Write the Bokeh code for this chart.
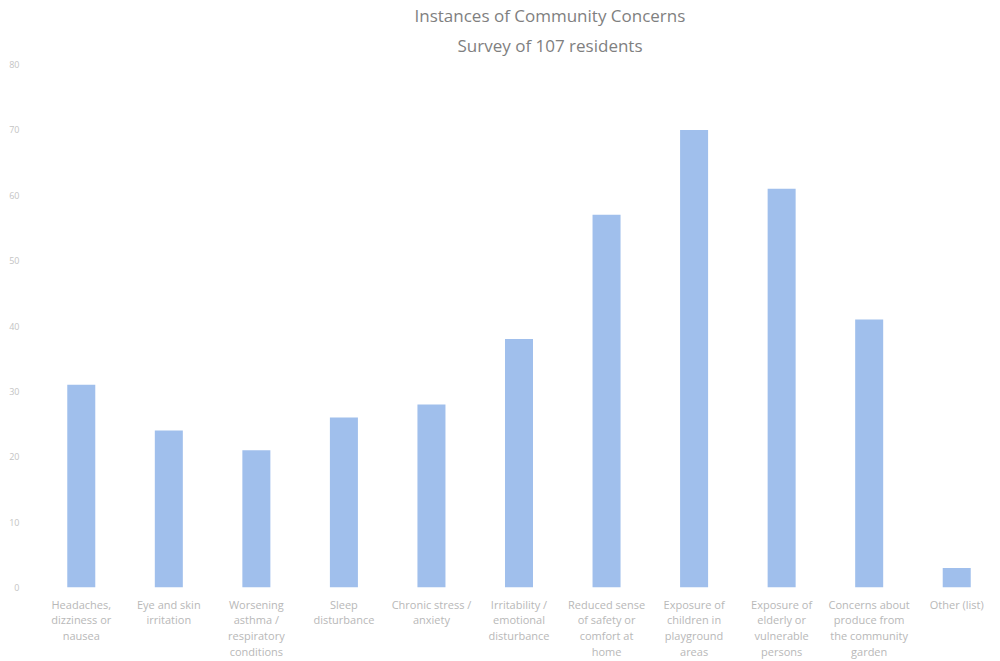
from bokeh.plotting import figure
from bokeh.models import FactorRange, Range1d, Title, FixedTicker
from bokeh.embed import file_html
from bokeh.resources import INLINE

categories = [
    "Headaches,\ndizziness or\nnausea",
    "Eye and skin\nirritation",
    "Worsening\nasthma /\nrespiratory\nconditions",
    "Sleep\ndisturbance",
    "Chronic stress /\nanxiety",
    "Irritability /\nemotional\ndisturbance",
    "Reduced sense\nof safety or\ncomfort at\nhome",
    "Exposure of\nchildren in\nplayground\nareas",
    "Exposure of\nelderly or\nvulnerable\npersons",
    "Concerns about\nproduce from\nthe community\ngarden",
    "Other (list)",
]
counts = [31, 24, 21, 26, 28, 38, 57, 70, 61, 41, 3]
y_ticks = [0, 10, 20, 30, 40, 50, 60, 70, 80]

FONT = "Open Sans"

p = figure(
    width=1000, height=661,
    x_range=FactorRange(*categories, range_padding=0),
    y_range=Range1d(0, 80),
    output_backend="svg", toolbar_location=None,
    min_border_left=37, min_border_right=0,
    min_border_bottom=74, min_border_top=64,
    outline_line_color=None,
)
p.title.text = ""

p.vbar(x=categories, top=counts, width=0.32, fill_color="#a0bfec", line_color=None)

sub = Title(text="Survey of 107 residents", align="left", text_font=FONT,
            text_font_size="17px", text_font_style="normal", text_color="#7f7f7f",
            standoff=11, offset=420, vertical_align="top", text_line_height=1.0)
main = Title(text="Instances of Community Concerns", align="left", text_font=FONT,
             text_font_size="17px", text_font_style="normal", text_color="#7f7f7f",
             standoff=0, offset=377, vertical_align="top", text_line_height=1.0)
p.add_layout(sub, "above")
p.add_layout(main, "above")

p.xgrid.grid_line_color = None
p.ygrid.grid_line_color = None

p.yaxis.ticker = FixedTicker(ticks=y_ticks)
p.yaxis.axis_line_color = None
p.yaxis.major_tick_line_color = None
p.yaxis.minor_tick_line_color = None
p.yaxis.major_label_text_font = FONT
p.yaxis.major_label_text_font_size = "9px"
p.yaxis.major_label_text_color = "#c4c4c4"
p.yaxis.major_label_standoff = 12

p.xaxis.axis_line_color = None
p.xaxis.major_tick_line_color = None
p.xaxis.minor_tick_line_color = None
p.xaxis.major_label_text_font = FONT
p.xaxis.major_label_text_font_size = "11px"
p.xaxis.major_label_text_color = "#b8b8b8"
p.xaxis.major_label_text_line_height = 1.05
p.xaxis.major_label_standoff = 3

open("out.html", "w").write(file_html(p, INLINE))
